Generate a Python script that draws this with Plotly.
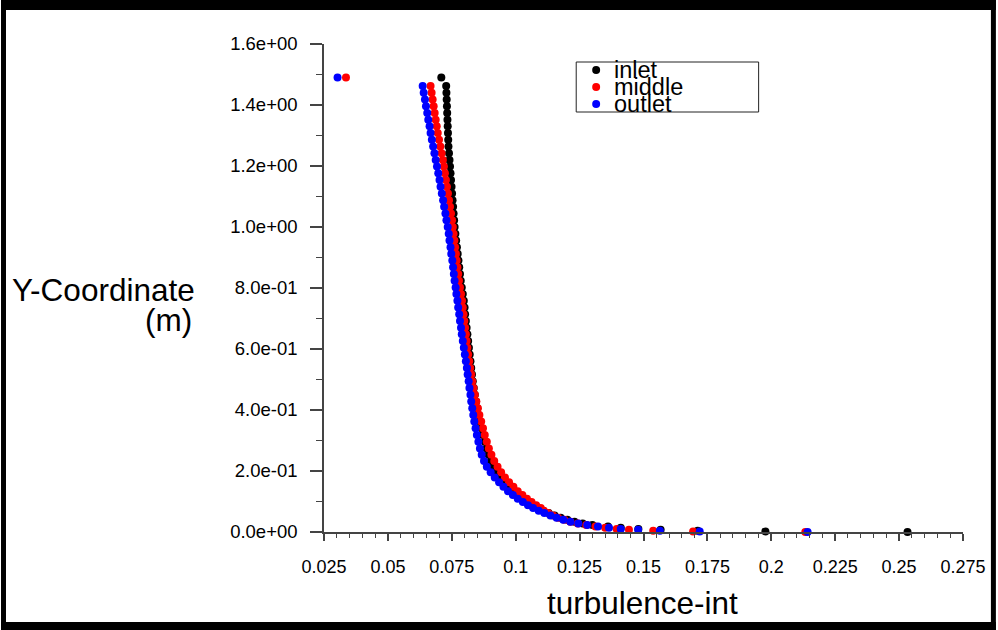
import plotly.graph_objects as go

# ---- data: turbulence intensity profiles along the wall-normal Y-coordinate ----
y_coord = [
    1.490, 1.462, 1.440, 1.418, 1.396, 1.374, 1.352, 1.330, 1.308, 1.286,
    1.264, 1.242, 1.220, 1.198, 1.176, 1.154, 1.132, 1.110, 1.088, 1.066,
    1.044, 1.022, 1.000, 0.978, 0.956, 0.934, 0.912, 0.890, 0.868, 0.846,
    0.824, 0.802, 0.780, 0.758, 0.736, 0.714, 0.692, 0.670, 0.648, 0.626,
    0.604, 0.582, 0.560, 0.538, 0.516, 0.494, 0.472, 0.450, 0.428, 0.406,
    0.384, 0.362, 0.340, 0.318, 0.296, 0.274, 0.253, 0.233, 0.214, 0.196,
    0.179, 0.163, 0.148, 0.134, 0.121, 0.109, 0.098, 0.088, 0.079, 0.070,
    0.062, 0.054, 0.047, 0.040, 0.034, 0.028, 0.023, 0.018, 0.014, 0.010,
    0.007, 0.004, 0.002, 0.000,
]

inlet = [
    0.0709, 0.0728, 0.0729, 0.0730, 0.0731, 0.0732, 0.0733, 0.0734, 0.0735, 0.0736,
    0.0737, 0.0739, 0.0741, 0.0743, 0.0745, 0.0747, 0.0749, 0.0751, 0.0753, 0.0755,
    0.0757, 0.0759, 0.0761, 0.0764, 0.0767, 0.0770, 0.0773, 0.0776, 0.0779, 0.0782,
    0.0785, 0.0789, 0.0793, 0.0797, 0.0800, 0.0802, 0.0805, 0.0808, 0.0811, 0.0814,
    0.0817, 0.0820, 0.0823, 0.0826, 0.0829, 0.0832, 0.0836, 0.0840, 0.0845, 0.0850,
    0.0855, 0.0860, 0.0866, 0.0872, 0.0879, 0.0886, 0.0894, 0.0903, 0.0914, 0.0926,
    0.0940, 0.0955, 0.0972, 0.0990, 0.1008, 0.1027, 0.1046, 0.1066, 0.1086, 0.1107,
    0.1129, 0.1152, 0.1176, 0.1202, 0.1230, 0.1262, 0.1300, 0.1361, 0.1411, 0.1480,
    0.1567, 0.1712, 0.1977, 0.2533,
]

middle = [
    0.0336, 0.0667, 0.0671, 0.0675, 0.0679, 0.0683, 0.0687, 0.0691, 0.0695, 0.0700,
    0.0705, 0.0710, 0.0715, 0.0719, 0.0723, 0.0727, 0.0731, 0.0735, 0.0739, 0.0743,
    0.0747, 0.0751, 0.0754, 0.0757, 0.0760, 0.0763, 0.0766, 0.0769, 0.0772, 0.0775,
    0.0778, 0.0782, 0.0786, 0.0790, 0.0793, 0.0796, 0.0799, 0.0802, 0.0805, 0.0808,
    0.0811, 0.0814, 0.0818, 0.0822, 0.0826, 0.0830, 0.0835, 0.0840, 0.0846, 0.0852,
    0.0858, 0.0865, 0.0872, 0.0879, 0.0887, 0.0895, 0.0905, 0.0916, 0.0929, 0.0943,
    0.0958, 0.0974, 0.0991, 0.1008, 0.1026, 0.1044, 0.1062, 0.1080, 0.1098, 0.1110,
    0.1127, 0.1146, 0.1166, 0.1190, 0.1214, 0.1243, 0.1276, 0.1312, 0.1350, 0.1395,
    0.1443, 0.1538, 0.1694, 0.2133,
]

outlet = [
    0.0303, 0.0636, 0.0640, 0.0645, 0.0649, 0.0654, 0.0658, 0.0663, 0.0667, 0.0672,
    0.0677, 0.0682, 0.0687, 0.0692, 0.0697, 0.0702, 0.0706, 0.0711, 0.0716, 0.0720,
    0.0725, 0.0729, 0.0734, 0.0738, 0.0741, 0.0745, 0.0748, 0.0752, 0.0755, 0.0758,
    0.0761, 0.0765, 0.0768, 0.0772, 0.0775, 0.0779, 0.0782, 0.0786, 0.0789, 0.0793,
    0.0797, 0.0801, 0.0805, 0.0809, 0.0812, 0.0816, 0.0819, 0.0823, 0.0826, 0.0830,
    0.0834, 0.0838, 0.0843, 0.0848, 0.0854, 0.0860, 0.0867, 0.0876, 0.0887, 0.0902,
    0.0918, 0.0935, 0.0952, 0.0970, 0.0989, 0.1008, 0.1028, 0.1048, 0.1068, 0.1090,
    0.1112, 0.1136, 0.1160, 0.1186, 0.1214, 0.1245, 0.1280, 0.1322, 0.1365, 0.1411,
    0.1479, 0.1564, 0.1720, 0.2142,
]

series_names = ["inlet", "middle", "outlet"]
series_colors = ["#000000", "#ff0000", "#0000ff"]

x_tick_vals = [0.025, 0.05, 0.075, 0.1, 0.125, 0.15, 0.175, 0.2, 0.225, 0.25, 0.275]
x_tick_text = ["0.025", "0.05", "0.075", "0.1", "0.125", "0.15", "0.175", "0.2", "0.225", "0.25", "0.275"]
y_tick_vals = [0.0, 0.2, 0.4, 0.6, 0.8, 1.0, 1.2, 1.4, 1.6]
y_tick_text = ["0.0e+00", "2.0e-01", "4.0e-01", "6.0e-01", "8.0e-01",
               "1.0e+00", "1.2e+00", "1.4e+00", "1.6e+00"]

# ---- page geometry (pixels) ----
W, H = 998, 630
ML, MR, MT, MB = 324, 33, 44, 98
PW, PH = W - ML - MR, H - MT - MB
FONT = "Liberation Sans, Arial, Helvetica, sans-serif"
AXIS_COLOR = "#444444"


def px_x(px):
    return (px - ML) / PW


def px_y(py):
    return (H - MB - py) / PH


fig = go.Figure()
for xs, name, color in zip([inlet, middle, outlet], series_names, series_colors):
    fig.add_trace(go.Scatter(
        x=xs, y=y_coord, mode="markers", name=name,
        marker=dict(size=8, color=color, line=dict(width=0)),
        cliponaxis=False, showlegend=False,
    ))

shapes = []
# outer black frame
for x0, y0, x1, y1 in [(0, 0, W, 10), (0, 622, W, H), (0, 0, 5, H), (993, 0, W, H)]:
    shapes.append(dict(type="rect", xref="paper", yref="paper",
                       x0=px_x(x0), x1=px_x(x1), y0=px_y(y1), y1=px_y(y0),
                       fillcolor="#000000", line=dict(width=0), layer="above"))

# legend box with symbols and labels
shapes.append(dict(type="rect", xref="paper", yref="paper",
                   x0=px_x(577), x1=px_x(760), y0=px_y(112), y1=px_y(62),
                   fillcolor="rgba(0,0,0,0)", line=dict(color="#222222", width=1),
                   layer="above"))
annotations = []
legend_rows = [70, 87, 104]
for row, name, color in zip(legend_rows, series_names, series_colors):
    shapes.append(dict(type="circle", xref="paper", yref="paper",
                       x0=px_x(593), x1=px_x(601), y0=px_y(row + 4), y1=px_y(row - 4),
                       fillcolor=color, line=dict(width=0), layer="above"))
    annotations.append(dict(text=name, xref="paper", yref="paper",
                            x=px_x(613), y=px_y(row), xanchor="left", yanchor="middle",
                            showarrow=False, font=dict(family=FONT, size=23.5, color="#000000")))

# axis titles
TITLE_SIZE = 31.5
annotations.append(dict(text="Y-Coordinate", xref="paper", yref="paper",
                        x=px_x(197), y=px_y(290), xanchor="right", yanchor="middle",
                        showarrow=False, font=dict(family=FONT, size=TITLE_SIZE, color="#000000")))
annotations.append(dict(text="(m)", xref="paper", yref="paper",
                        x=px_x(194), y=px_y(320), xanchor="right", yanchor="middle",
                        showarrow=False, font=dict(family=FONT, size=TITLE_SIZE, color="#000000")))
annotations.append(dict(text="turbulence-int", xref="paper", yref="paper",
                        x=px_x(643), y=px_y(603), xanchor="center", yanchor="middle",
                        showarrow=False, font=dict(family=FONT, size=TITLE_SIZE, color="#000000")))

fig.update_layout(
    width=W, height=H,
    margin=dict(l=ML, r=MR, t=MT, b=MB, pad=0),
    paper_bgcolor="#ffffff", plot_bgcolor="#ffffff",
    shapes=shapes, annotations=annotations,
    font=dict(family=FONT, color="#000000"),
    xaxis=dict(
        range=[0.025, 0.275], tickmode="array", tickvals=x_tick_vals, ticktext=x_tick_text,
        ticks="outside", ticklen=7, tickwidth=1.5, tickcolor=AXIS_COLOR,
        showline=True, linecolor=AXIS_COLOR, linewidth=1.5,
        showgrid=False, zeroline=False, ticklabelstandoff=11,
        tickfont=dict(family=FONT, size=18, color="#000000"),
        minor=dict(ticks="outside", ticklen=4, tickwidth=1.2, tickcolor=AXIS_COLOR,
                   tickmode="linear", tick0=0.025, dtick=0.005, showgrid=False),
    ),
    yaxis=dict(
        range=[0, 1.6], tickmode="array", tickvals=y_tick_vals, ticktext=y_tick_text,
        ticks="outside", ticklen=12, tickwidth=1.5, tickcolor=AXIS_COLOR,
        showline=True, linecolor=AXIS_COLOR, linewidth=1.5,
        showgrid=False, zeroline=False, ticklabelstandoff=9,
        tickfont=dict(family=FONT, size=18.5, color="#000000"),
        minor=dict(ticks="outside", ticklen=6, tickwidth=1.2, tickcolor=AXIS_COLOR,
                   tickmode="linear", tick0=0, dtick=0.1, showgrid=False),
    ),
)

fig.write_html("out.html")
